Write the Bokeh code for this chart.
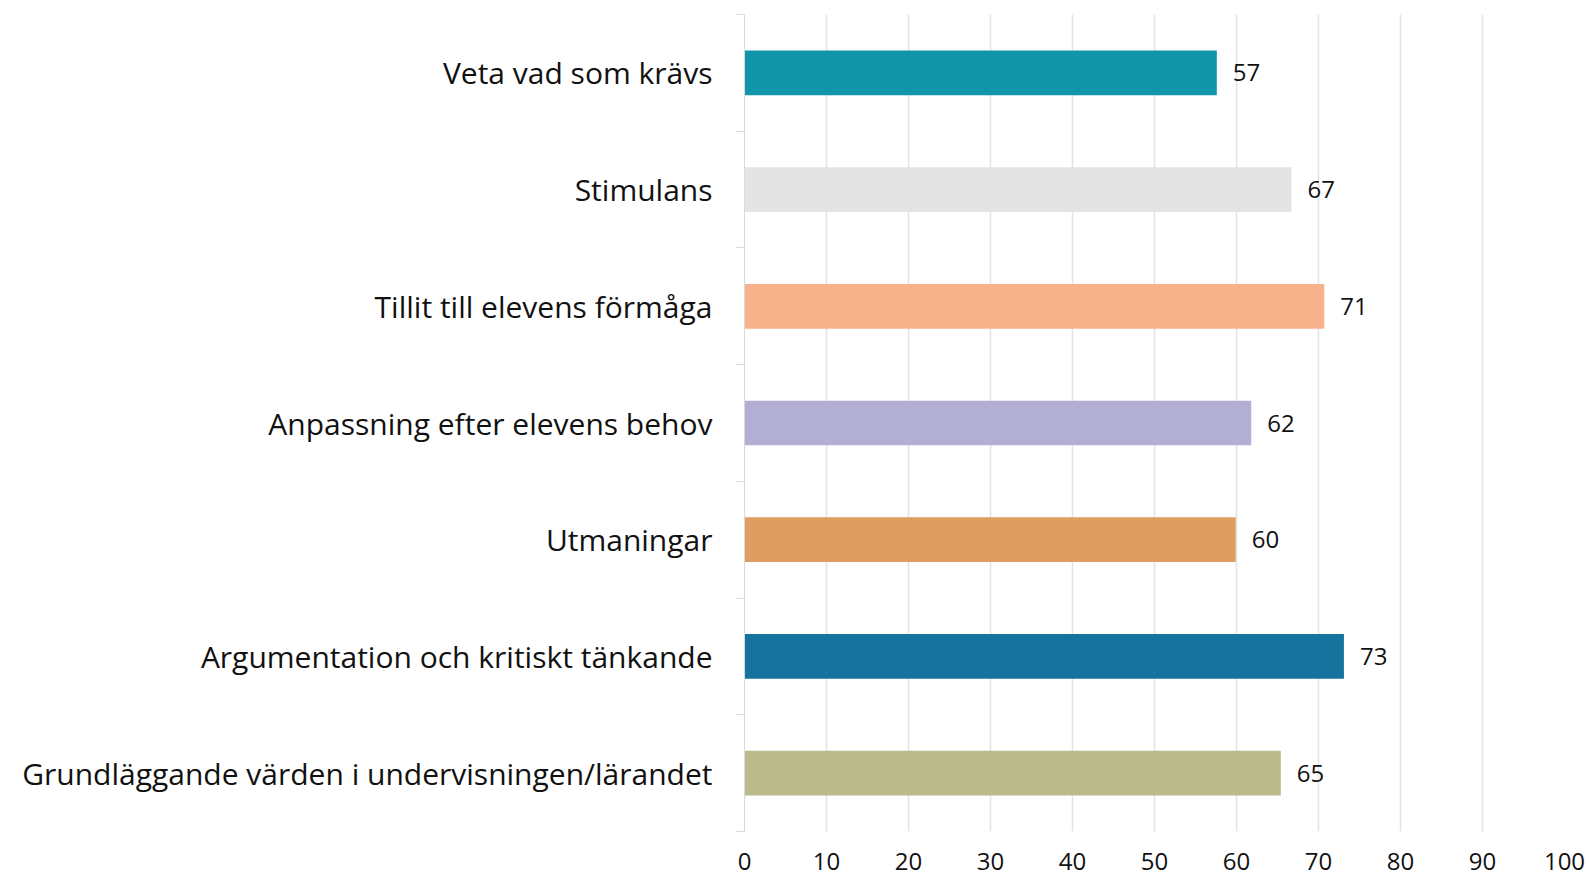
from bokeh.plotting import figure
from bokeh.models import ColumnDataSource, FixedTicker, Range1d, LabelSet
from bokeh.core.properties import value
from bokeh.embed import file_html
from bokeh.resources import INLINE

categories = [
    "Veta vad som krävs",
    "Stimulans",
    "Tillit till elevens förmåga",
    "Anpassning efter elevens behov",
    "Utmaningar",
    "Argumentation och kritiskt tänkande",
    "Grundläggande värden i undervisningen/lärandet",
]
values = [57.6, 66.7, 70.7, 61.8, 59.9, 73.1, 65.4]
value_labels = ["57", "67", "71", "62", "60", "73", "65"]
colors = ["#1196A9", "#E4E4E4", "#F7B28B", "#B3AED4", "#DE9E62", "#16739D", "#BBBA8C"]
x_ticks = [0, 10, 20, 30, 40, 50, 60, 70, 80, 90, 100]

n = len(categories)
ypos = [n - 0.5 - i for i in range(n)]

src = ColumnDataSource(dict(y=ypos, v=values, lab=value_labels, c=colors))

FONT = "Open Sans"

p = figure(width=1589, height=878, output_backend="svg", toolbar_location=None,
           x_range=Range1d(0, 100), y_range=Range1d(0, n),
           min_border_left=744, min_border_right=25, min_border_top=14, min_border_bottom=47)
p.outline_line_color = None
p.background_fill_color = "white"

p.hbar(y="y", right="v", left=0, height=0.383, fill_color="c", line_color=None, source=src)

labels = LabelSet(x="v", y="y", text="lab", source=src, x_offset=16, text_align="left",
                  text_baseline="middle", text_font=value(FONT), text_font_size="24px",
                  text_color="#111111")
p.add_layout(labels)

# x axis
p.xaxis.ticker = FixedTicker(ticks=x_ticks)
p.xaxis.axis_line_color = None
p.xaxis.major_tick_line_color = None
p.xaxis.minor_tick_line_color = None
p.xaxis.major_label_standoff = 15
p.xaxis.major_label_text_font = FONT
p.xaxis.major_label_text_font_size = "24px"
p.xaxis.major_label_text_color = "#111111"

# y axis
p.yaxis.ticker = FixedTicker(ticks=ypos, minor_ticks=list(range(n + 1)))
p.yaxis.major_label_overrides = {y: c for y, c in zip(ypos, categories)}
p.yaxis.axis_line_color = "#D9D9D9"
p.yaxis.axis_line_width = 1
p.yaxis.major_tick_line_color = None
p.yaxis.minor_tick_line_color = "#D9D9D9"
p.yaxis.minor_tick_out = 8
p.yaxis.minor_tick_in = 0
p.yaxis.major_label_standoff = 24
p.yaxis.major_label_text_font = FONT
p.yaxis.major_label_text_font_size = "30px"
p.yaxis.major_label_text_color = "#111111"

p.xgrid.ticker = FixedTicker(ticks=x_ticks)
p.xgrid.grid_line_color = "#E3E3E3"
p.xgrid.grid_line_width = 1.5
p.ygrid.grid_line_color = None

open("out.html", "w").write(file_html(p, INLINE))
